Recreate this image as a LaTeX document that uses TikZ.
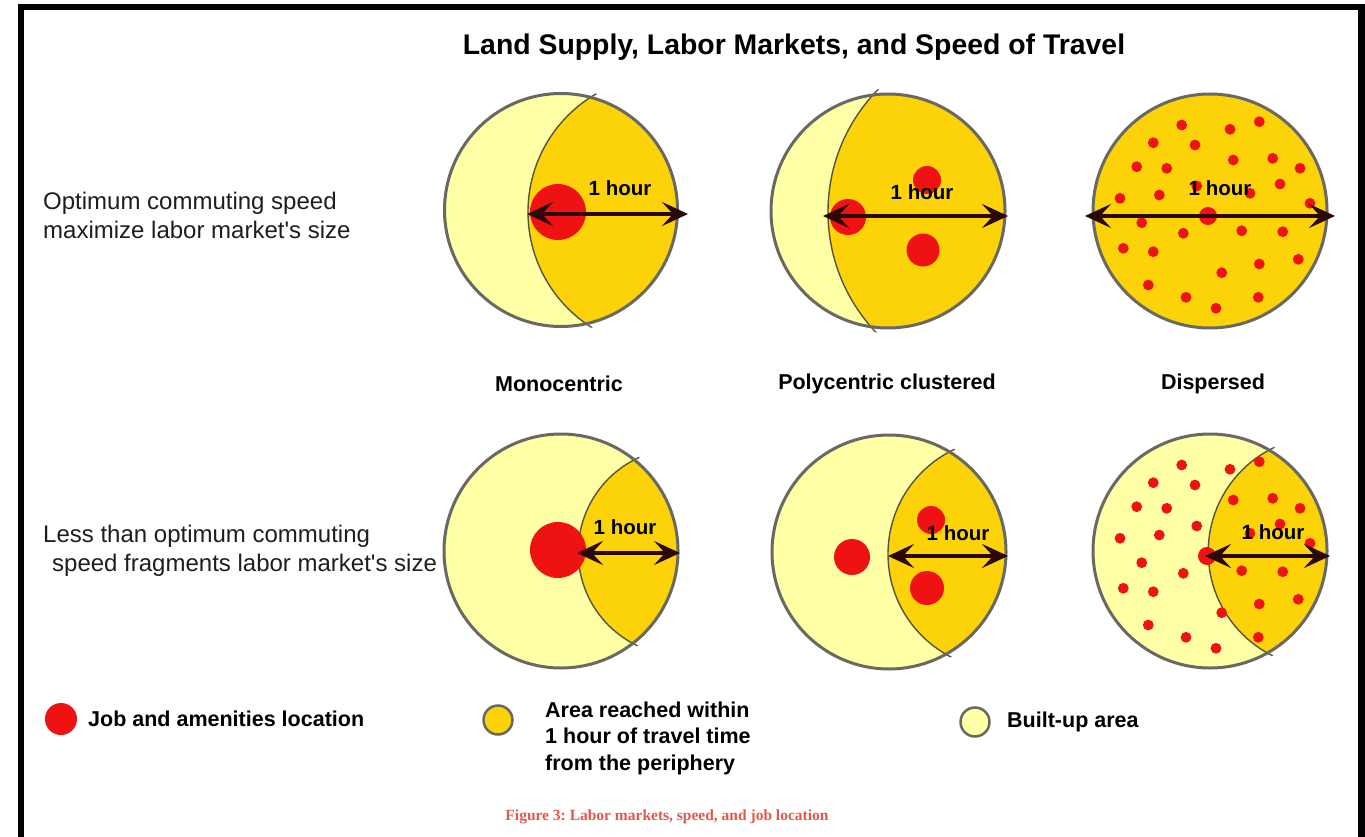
\documentclass[tikz,border=0pt]{standalone}
\usepackage{fontspec}
\setmainfont{Liberation Sans}[Ligatures=TeXOff]
\newfontfamily\captionserif{Liberation Serif}
\usetikzlibrary{arrows.meta}
\frenchspacing

\definecolor{builtup}{RGB}{255,255,165}
\definecolor{reach}{RGB}{252,210,8}
\definecolor{jobred}{RGB}{238,18,18}
\definecolor{rimgray}{RGB}{105,105,100}
\definecolor{edgegray}{RGB}{85,85,70}
\definecolor{arrowdark}{RGB}{42,8,8}
\definecolor{captionred}{RGB}{228,88,76}
\definecolor{labelgray}{RGB}{30,30,30}

\tikzset{
  rim/.style={draw=rimgray, line width=3pt},
  boundary/.style={draw=edgegray, line width=1.4pt},
  jobdot/.style={fill=jobred},
  hourarrow/.style={draw=arrowdark, line width=3.6pt,
    {Stealth[length=26pt,width=24pt,inset=11pt]}-{Stealth[length=26pt,width=24pt,inset=11pt]}},
  hourlabel/.style={font=\bfseries\fontsize{20.5}{24}\selectfont, inner sep=0pt, text=black},
  rowlabel/.style={font=\fontsize{24}{29}\selectfont, inner sep=0pt, anchor=west, align=left, text=labelgray},
  collabel/.style={font=\bfseries\fontsize{21.5}{26}\selectfont, inner sep=0pt},
  legendtext/.style={font=\bfseries\fontsize{21.5}{26.5}\selectfont, inner sep=0pt, anchor=west, align=left},
}

% one city disc: built-up area with the lens reached within one hour
% #1,#2 centre, #3 radius; #4,#5 centre and #6 radius of the reach circle
\newcommand\citydisc[6]{%
  \fill[builtup] (#1,#2) circle (#3pt);
  \begin{scope}
    \clip (#1,#2) circle (#3pt);
    \fill[reach] (#4,#5) circle (#6pt);
  \end{scope}
  \begin{scope}
    \clip (#1,#2) circle ({#3pt+5pt});
    \draw[boundary] (#4,#5) circle (#6pt);
  \end{scope}
  \draw[rim] (#1,#2) circle (#3pt);
}

% scattered job locations of the dispersed city
\def\scatterdots{1181.7/125, 1230/129.3, 1259.3/121.7, 1153.3/142.7, 1195/145,
  1233.3/160, 1272.7/158.3, 1136.7/166.7, 1166.7/168.3, 1300/168.3, 1280/184,
  1196.7/186, 1250/193.3, 1159.3/195, 1120/198.3, 1310/203.3, 1141.7/222.7,
  1183.3/233.3, 1241.7/230.7, 1282.7/231.7, 1123.3/248.3, 1153.3/251.7,
  1298.3/259.3, 1259.3/264, 1221.7/272.7, 1148.3/285, 1186/297.3,
  1258.3/297.3, 1216/308.3}

\begin{document}
\begin{tikzpicture}[x=1pt, y=-1pt]
  \useasboundingbox (0,0) rectangle (1365,837);
  \fill[white] (0,0) rectangle (1365,837);

  % frame
  \draw[line width=6.5pt, line join=miter] (21,845) -- (21,7) -- (1361.5,7) -- (1361.5,845);

  % title
  \node[font=\bfseries\fontsize{28.4}{34}\selectfont, inner sep=0pt] (title) at (794,47)
    {Land Supply, Labor Markets, and Speed of Travel};

  % row labels
  \node[rowlabel] (rowopt) at (43,215)
    {Optimum commuting speed\\maximize labor market's size};
  \node[rowlabel] (rowless) at (43,551)
    {Less than optimum commuting\\\hspace*{9pt}speed fragments labor market's size};

  % ---- optimum speed row ----
  \citydisc{561}{210}{116.5}{664.5}{212}{136.5}
  \fill[jobdot] (558,212) circle (28pt);

  \citydisc{888}{211}{117}{1003}{212}{175}
  \fill[jobdot] (848,217) circle (18pt);
  \fill[jobdot] (927,180) circle (14pt);
  \fill[jobdot] (923,250) circle (16.5pt);

  \fill[reach] (1210,211) circle (117pt);
  \draw[rim] (1210,211) circle (117pt);
  \foreach \px/\py in \scatterdots {\fill[jobdot] (\px,\py) circle (5.4pt);}
  \fill[jobdot] (1208,216) circle (9pt);

  \coordinate (monoL) at (527,214);  \coordinate (monoR) at (688,214);
  \coordinate (polyL) at (823,216);  \coordinate (polyR) at (1008,216);
  \coordinate (dispL) at (1085,216); \coordinate (dispR) at (1335,216);
  \draw[hourarrow] (monoL) -- (monoR);
  \draw[hourarrow] (polyL) -- (polyR);
  \draw[hourarrow] (dispL) -- (dispR);
  \node[hourlabel] (hmono) at (620,188) {1 hour};
  \node[hourlabel] (hpoly) at (922,192) {1 hour};
  \node[hourlabel] (hdisp) at (1220,188) {1 hour};

  % column labels
  \node[collabel] (colmono) at (559,384) {Monocentric};
  \node[collabel] (colpoly) at (887,384) {Polycentric clustered};
  \node[collabel] (coldisp) at (1213,384) {Dispersed};

  % ---- slower speed row ----
  \citydisc{561}{551}{117}{682}{552}{103.8}
  \fill[jobdot] (558,550) circle (28pt);

  \citydisc{889}{552}{117}{1003.7}{554}{115.7}
  \fill[jobdot] (852,557) circle (18pt);
  \fill[jobdot] (931,520) circle (14pt);
  \fill[jobdot] (927,588) circle (17pt);

  \citydisc{1210}{551}{117}{1324}{552}{115.8}
  \foreach \px/\py in \scatterdots {\fill[jobdot] (\px,{\py+340}) circle (5.4pt);}
  \fill[jobdot] (1207,556) circle (9pt);

  \coordinate (smonoL) at (577,553);  \coordinate (smonoR) at (680,553);
  \coordinate (spolyL) at (888,556);  \coordinate (spolyR) at (1008,556);
  \coordinate (sdispL) at (1205,556); \coordinate (sdispR) at (1330,556);
  \draw[hourarrow] (smonoL) -- (smonoR);
  \draw[hourarrow] (spolyL) -- (spolyR);
  \draw[hourarrow] (sdispL) -- (sdispR);
  \node[hourlabel] (shmono) at (625,527) {1 hour};
  \node[hourlabel] (shpoly) at (958,533) {1 hour};
  \node[hourlabel] (shdisp) at (1273,532) {1 hour};

  % legend
  \fill[jobred] (61,719) circle (16pt);
  \node[legendtext] (legjob) at (88,719) {Job and amenities location};

  \filldraw[fill=reach, draw=rimgray, line width=2.5pt] (498,720) circle (14.5pt);
  \node[legendtext] (legreach) at (545,738)
    {Area reached within\\1 hour of travel time\\from the periphery};

  \filldraw[fill=builtup, draw=rimgray, line width=2.5pt] (975,722) circle (14.5pt);
  \node[legendtext] (legbuilt) at (1007,722) {Built-up area};

  % caption
  \node[font=\captionserif\bfseries\fontsize{15.5}{18}\selectfont, text=captionred, inner sep=0pt]
    (caption) at (667,817) {Figure 3: Labor markets, speed, and job location};
\end{tikzpicture}
\end{document}
